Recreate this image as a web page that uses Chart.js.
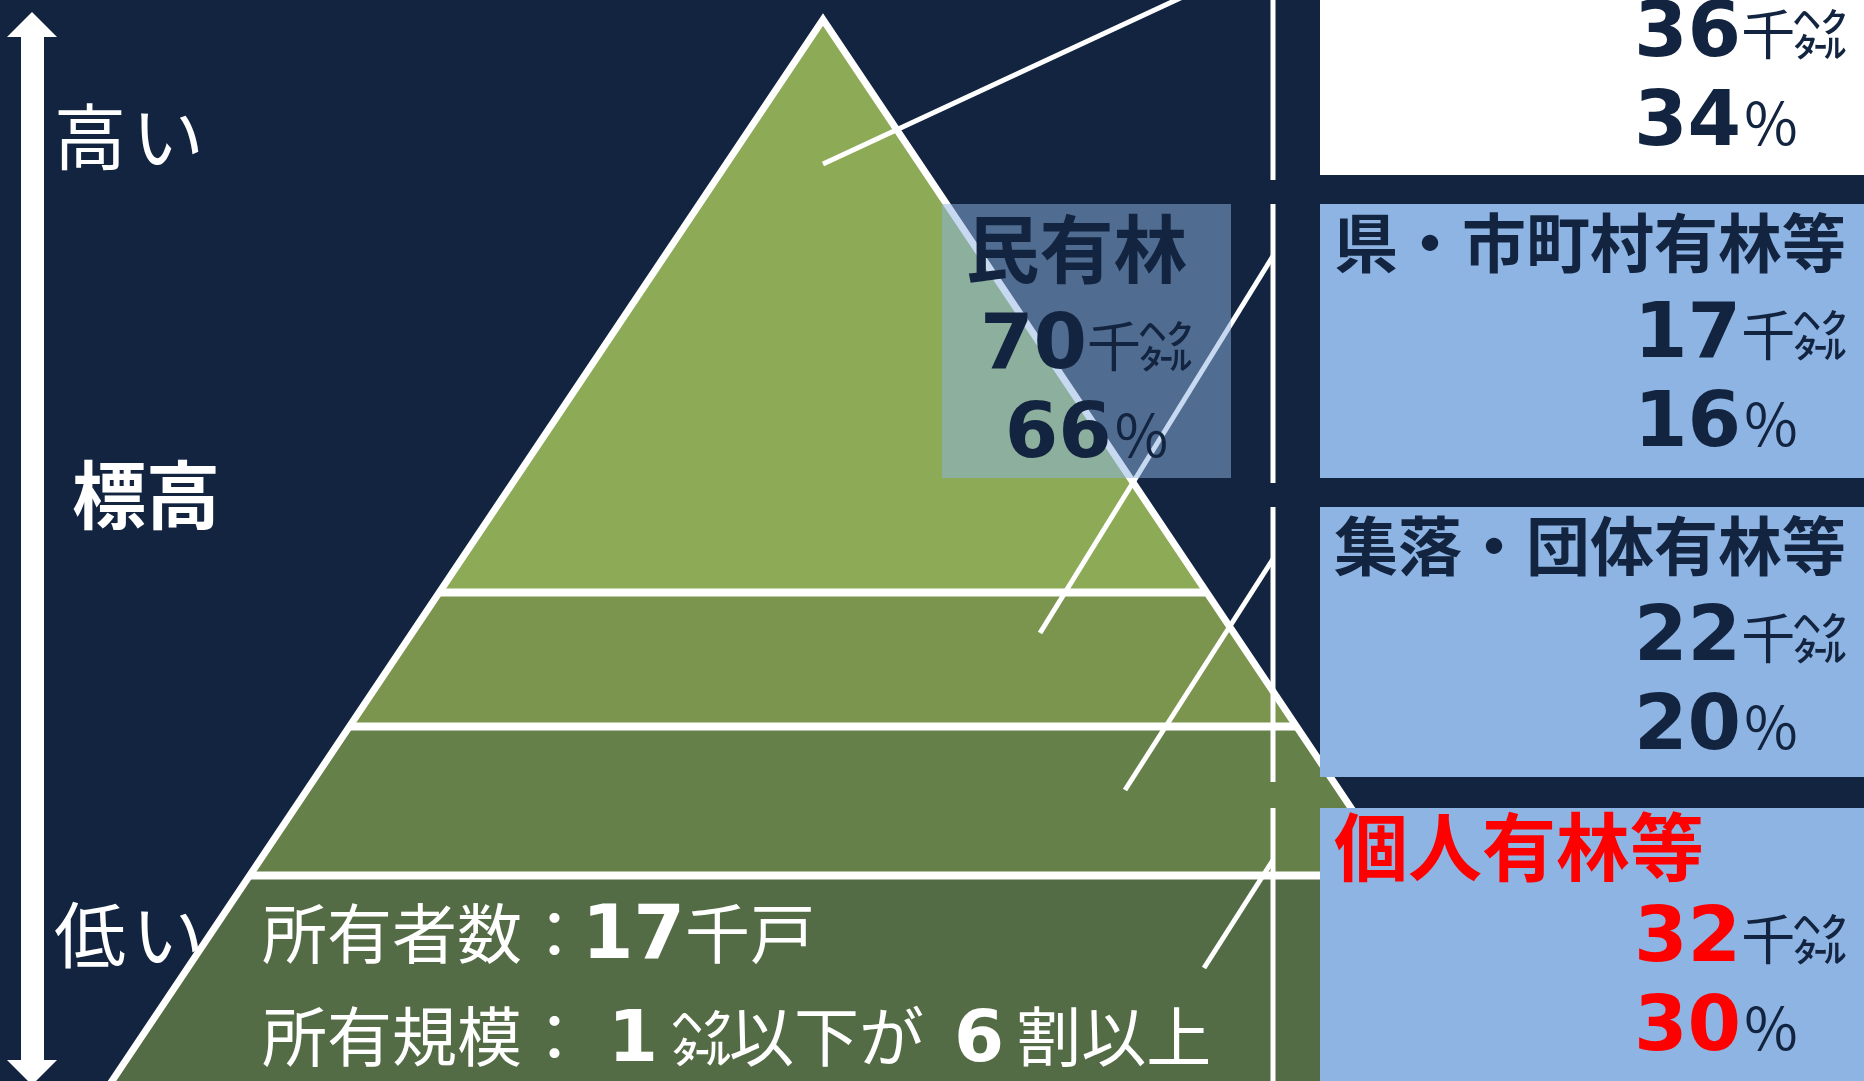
<!DOCTYPE html>
<html lang="ja">
<head>
<meta charset="utf-8">
<title>民有林 標高別の所有形態</title>
<script src="https://cdn.jsdelivr.net/npm/chart.js@4.4.1/dist/chart.umd.min.js"></script>
<style>
  html, body { margin: 0; padding: 0; background: #12243F; overflow: hidden; }
  canvas { display: block; }
</style>
</head>
<body>
<canvas id="chart" width="1864" height="1081"></canvas>
<script>
// ---------- Datos ----------
const categories  = [null, "県・市町村有林等", "集落・団体有林等", "個人有林等"]; // 1ª etiqueta fuera de cuadro
const areaKha     = [36, 17, 22, 32];          // 千ヘクタール
const sharePct    = [34, 16, 20, 30];          // %
const tierBounds  = [98.2, 45.2, 32.8, 19.0, 0]; // 標高 (índice 0–100), de la cima a la base
const privateLabel = "民有林";
const privateArea  = 70;
const privateShare = 66;
const ownerCount   = 17;   // 千戸
const smallLimitHa = 1;    // ㌶
const smallShare   = 6;    // 割
const elevLabels   = ["高い", "標高", "低い"];
const highlightIdx = 3;

// ---------- Estilo / layout ----------
const W = 1864, H = 1081;
const NAVY = "#12243F";
const RED = "#FF0000";
const BOX_BLUE = "#8EB4E3";
const bandColors = ["#8DAA56", "#7B944E", "#66804A", "#546C45"];
const JP  = '"Noto Sans CJK JP", "Noto Sans", sans-serif';
const NUM = '"DejaVu Sans", Verdana, sans-serif';

const PEAK_X = 823, BASE_LEFT = 112;   // silueta del triángulo
const DIVIDER_X = 1273;
const BOX_X = 1320;
const boxTop    = [-97, 204, 507, 808];
const boxBottom = [175, 478, 777, 1081];
const leaderFrom = [[823, 164], [1040, 633], [1125, 790], [1204, 968]]; // px
const OVERLAY = { x0: 942, x1: 1231 };

const elevOf = py => (H - py) / H * 100;
function edgeX(e, side) {
  const half = (PEAK_X - BASE_LEFT) * (tierBounds[0] - e) / tierBounds[0];
  return PEAK_X + side * half;
}

// ---------- Datasets ----------
const datasets = [];

// bandas del triángulo (relleno)
bandColors.forEach((c, i) => {
  const hi = tierBounds[i], lo = i === bandColors.length - 1 ? -1 : tierBounds[i + 1];
  datasets.push({
    data: [
      { x: edgeX(lo, -1), y: lo }, { x: edgeX(hi, -1), y: hi },
      { x: edgeX(hi, 1), y: hi }, { x: edgeX(lo, 1), y: lo }, { x: edgeX(lo, -1), y: lo }
    ],
    showLine: true, fill: "shape", backgroundColor: c, borderColor: c, borderWidth: 1,
    pointRadius: 0, order: 9
  });
});

// separadores horizontales
tierBounds.slice(1, -1).forEach(e => {
  datasets.push({
    data: [{ x: edgeX(e, -1), y: e }, { x: edgeX(e, 1), y: e }],
    showLine: true, borderColor: "#FFFFFF", borderWidth: 8, pointRadius: 0, order: 8
  });
});

// contorno
datasets.push({
  data: [{ x: edgeX(-1, -1), y: -1 }, { x: PEAK_X, y: tierBounds[0] }, { x: edgeX(-1, 1), y: -1 }],
  showLine: true, borderColor: "#FFFFFF", borderWidth: 7, borderJoinStyle: "miter",
  pointRadius: 0, order: 7
});

// divisor vertical (cortado entre cuadros)
boxTop.forEach((t, i) => {
  datasets.push({
    data: [{ x: DIVIDER_X, y: elevOf(Math.max(t, -5)) }, { x: DIVIDER_X, y: elevOf(boxBottom[i] + 5) }],
    showLine: true, borderColor: "#FFFFFF", borderWidth: 5, pointRadius: 0, order: 6
  });
});

// líneas guía
leaderFrom.forEach(([px, py], i) => {
  datasets.push({
    data: [{ x: px, y: elevOf(py) }, { x: DIVIDER_X, y: elevOf(boxTop[i] + 52) }],
    showLine: true, borderColor: "#FFFFFF", borderWidth: 5, pointRadius: 0, order: 6
  });
});

// ---------- Helpers de texto ----------
function drawRuns(ctx, x, y, runs, align) {
  ctx.textBaseline = "alphabetic";
  ctx.textAlign = "left";
  const widths = runs.map(r => { ctx.font = r.font; return ctx.measureText(r.text).width + (r.gap || 0); });
  const total = widths.reduce((a, b) => a + b, 0);
  let cx = align === "center" ? x - total / 2 : x;
  runs.forEach((r, i) => {
    ctx.font = r.font;
    ctx.fillStyle = r.color;
    ctx.fillText(r.text, cx + (r.gap || 0), y + (r.dy || 0));
    cx += widths[i];
  });
}

// número + 千㌶
function areaRuns(v, numColor) {
  return [
    { text: String(v), font: `bold 77px ${NUM}`, color: numColor },
    { text: "千", font: `54px ${JP}`, color: NAVY, dy: -1 },
    { text: "㌶", font: `500 54px ${JP}`, color: NAVY, dy: -1, gap: -2 }
  ];
}
function pctRuns(v, numColor) {
  return [
    { text: String(v), font: `bold 77px ${NUM}`, color: numColor },
    { text: "%", font: `58px ${JP}`, color: NAVY, gap: 3 }
  ];
}

// ---------- Plugin: fondo, cuadros, textos ----------
const decorPlugin = {
  id: "decor",
  beforeDraw(chart) {
    const ctx = chart.ctx;
    ctx.save();
    ctx.fillStyle = NAVY;
    ctx.fillRect(0, 0, chart.width, chart.height);
    ctx.restore();
  },
  afterDatasetsDraw(chart) {
    const ctx = chart.ctx;
    const xs = chart.scales.x;
    ctx.save();

    // flecha de 標高
    ctx.fillStyle = "#FFFFFF";
    ctx.fillRect(21, 34, 23, 1030);
    ctx.beginPath();
    ctx.moveTo(32, 12); ctx.lineTo(57, 37); ctx.lineTo(7, 37); ctx.closePath(); ctx.fill();
    ctx.beginPath();
    ctx.moveTo(32, 1085); ctx.lineTo(57, 1060); ctx.lineTo(7, 1060); ctx.closePath(); ctx.fill();

    const [hiTxt, midTxt, loTxt] = elevLabels;
    drawRuns(ctx, 54, 164, [
      { text: hiTxt[0], font: `72px ${JP}`, color: "#FFFFFF" },
      { text: hiTxt.slice(1), font: `72px ${JP}`, color: "#FFFFFF", gap: 6 }
    ]);
    drawRuns(ctx, 72, 523, [{ text: midTxt, font: `bold 74px ${JP}`, color: "#FFFFFF" }]);
    drawRuns(ctx, 54, 962, [
      { text: loTxt[0], font: `72px ${JP}`, color: "#FFFFFF" },
      { text: loTxt.slice(1), font: `72px ${JP}`, color: "#FFFFFF", gap: 6 }
    ]);

    // cuadros de la derecha
    const bx0 = xs.getPixelForValue(BOX_X);
    categories.forEach((cat, i) => {
      const top = boxTop[i];
      ctx.fillStyle = i === 0 ? "#FFFFFF" : BOX_BLUE;
      ctx.fillRect(bx0, Math.max(top, 0), W - bx0, boxBottom[i] - Math.max(top, 0));
      const hot = i === highlightIdx;
      const numColor = hot ? RED : NAVY;
      if (cat) {
        drawRuns(ctx, 1334, top + (hot ? 67 : 63), [
          { text: cat, font: `bold ${hot ? 74 : 64}px ${JP}`, color: numColor }
        ]);
      }
      drawRuns(ctx, 1634, top + 153, areaRuns(areaKha[i], numColor));
      drawRuns(ctx, 1634, top + 242, pctRuns(sharePct[i], numColor));
    });

    // recuadro 民有林 (semitransparente)
    const ox0 = xs.getPixelForValue(OVERLAY.x0), ox1 = xs.getPixelForValue(OVERLAY.x1);
    ctx.fillStyle = "rgba(142,180,227,0.5)";
    ctx.fillRect(ox0, boxTop[1], ox1 - ox0, boxBottom[1] - boxTop[1]);
    const ocx = (ox0 + ox1) / 2;
    drawRuns(ctx, ocx - 10, 277, [{ text: privateLabel, font: `bold 74px ${JP}`, color: NAVY }], "center");
    drawRuns(ctx, ocx, 368, areaRuns(privateArea, NAVY), "center");
    drawRuns(ctx, ocx, 457, pctRuns(privateShare, NAVY), "center");

    // textos de la banda inferior
    drawRuns(ctx, 262, 958, [
      { text: "所有者数：", font: `65px ${JP}`, color: "#FFFFFF" },
      { text: String(ownerCount), font: `bold 74px ${NUM}`, color: "#FFFFFF", gap: -5 },
      { text: "千戸", font: `65px ${JP}`, color: "#FFFFFF" }
    ]);
    drawRuns(ctx, 262, 1061, [
      { text: "所有規模：", font: `65px ${JP}`, color: "#FFFFFF" },
      { text: String(smallLimitHa), font: `bold 72px ${NUM}`, color: "#FFFFFF", gap: 21 },
      { text: "㌶", font: `500 60px ${JP}`, color: "#FFFFFF", gap: 14 },
      { text: "以下が", font: `65px ${JP}`, color: "#FFFFFF", gap: -3 },
      { text: String(smallShare), font: `bold 72px ${NUM}`, color: "#FFFFFF", gap: 30 },
      { text: "割以上", font: `65px ${JP}`, color: "#FFFFFF", gap: 12 }
    ]);

    ctx.restore();
  }
};

// ---------- Chart ----------
function start() {
  new Chart(document.getElementById("chart"), {
    type: "scatter",
    data: { datasets },
    options: {
      responsive: false,
      animation: false,
      devicePixelRatio: 1,
      events: [],
      layout: { padding: 0 },
      plugins: { legend: { display: false }, tooltip: { enabled: false } },
      scales: {
        x: { type: "linear", min: 0, max: W, display: false },
        y: { type: "linear", min: 0, max: 100, display: false }
      }
    },
    plugins: [decorPlugin]
  });
}

document.addEventListener("DOMContentLoaded", start);
</script>
</body>
</html>
